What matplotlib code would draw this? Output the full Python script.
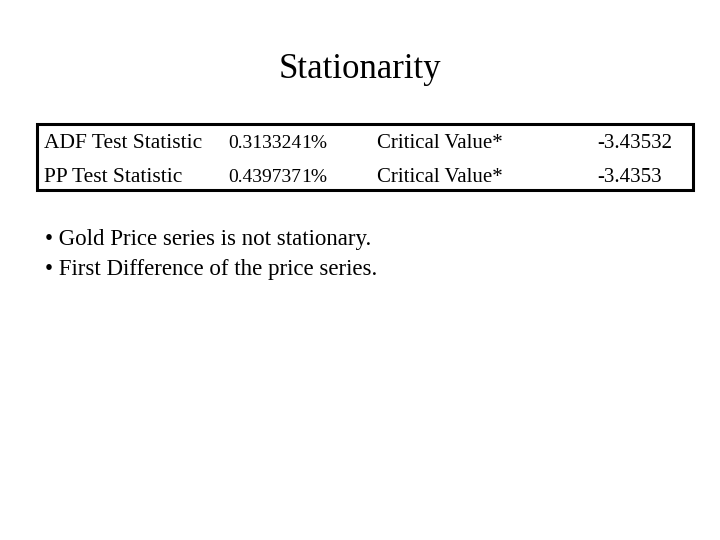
import matplotlib
matplotlib.use("Agg")
import matplotlib.pyplot as plt
from matplotlib.patches import Rectangle

test_names = ["ADF Test Statistic", "PP Test Statistic"]
test_stats = ["0.313324", "0.439737"]
levels = ["1%", "1%"]
crit_labels = ["Critical Value*", "Critical Value*"]
crit_values = ["-3.43532", "-3.4353"]
bullets = ["• Gold Price series is not stationary.", "• First Difference of the price series."]

plt.rcParams['font.family'] = ['Liberation Serif', 'DejaVu Serif']
W, H = 720, 540
fig = plt.figure(figsize=(7.2, 5.4), dpi=100)
ax = fig.add_axes([0, 0, 1, 1])
ax.set_xlim(0, W); ax.set_ylim(H, 0); ax.axis('off')

ax.text(360, 70, "Stationarity", fontsize=25, ha='center', va='center')
ax.add_patch(Rectangle((37, 124), 656, 66, fill=False, lw=2.2, ec='black'))
ys = [144, 177]
for i, y in enumerate(ys):
    ax.text(44, y, test_names[i], fontsize=15.5, va='center')
    ax.text(228, y, test_stats[i], fontsize=14, va='center')
    ax.text(301, y, levels[i], fontsize=14, va='center')
    ax.text(377, y, crit_labels[i], fontsize=15, va='center')
    ax.text(597, y, crit_values[i], fontsize=15, va='center')
for i, b in enumerate(bullets):
    ax.text(45, 240 + 30 * i, b, fontsize=16.5, va='center')

fig.savefig("out.png", dpi=100)
